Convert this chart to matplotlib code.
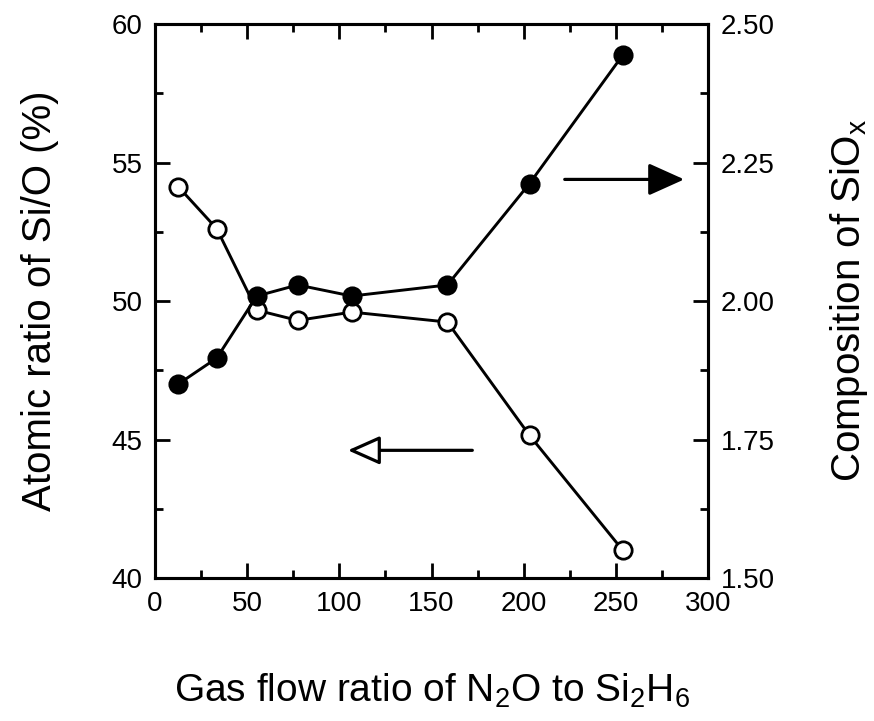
import matplotlib
matplotlib.use("Agg")
import matplotlib.pyplot as plt
from matplotlib.ticker import MultipleLocator

plt.rcParams['font.family'] = ['Liberation Sans', 'DejaVu Sans']
plt.rcParams['mathtext.fontset'] = 'custom'
plt.rcParams['mathtext.rm'] = 'Liberation Sans'
plt.rcParams['mathtext.it'] = 'Liberation Sans'

# Data
flow_ratio = [12.6, 33.5, 55.2, 77.4, 106.7, 158.6, 203.1, 253.7]
si_o_ratio = [54.13, 52.61, 49.67, 49.30, 49.60, 49.24, 45.15, 41.0]
composition = [1.850, 1.897, 2.009, 2.029, 2.009, 2.029, 2.212, 2.444]

x_ticks = [0, 50, 100, 150, 200, 250, 300]
left_ticks = [40, 45, 50, 55, 60]
right_ticks = [1.50, 1.75, 2.00, 2.25, 2.50]
right_labels = ['1.50', '1.75', '2.00', '2.25', '2.50']

fig = plt.figure(figsize=(8.74, 7.21), dpi=100)
ax = fig.add_axes([0.1773, 0.1983, 0.633, 0.7684])
ax2 = ax.twinx()

lw = 2.1
ax.plot(flow_ratio, si_o_ratio, color='black', lw=lw, marker='o', ms=12.5,
        mfc='white', mec='black', mew=2.0, zorder=3)
ax2.plot(flow_ratio, composition, color='black', lw=lw, marker='o', ms=13,
         mfc='black', mec='black', mew=1.5, zorder=3)

ax.set_xlim(0, 300)
ax.set_ylim(40, 60)
ax2.set_ylim(1.5, 2.5)

ax.set_xticks(x_ticks)
ax.set_xticklabels([str(t) for t in x_ticks])
ax.xaxis.set_minor_locator(MultipleLocator(25))
ax.set_yticks(left_ticks)
ax.yaxis.set_minor_locator(MultipleLocator(2.5))
ax2.set_yticks(right_ticks)
ax2.set_yticklabels(right_labels)
ax2.yaxis.set_minor_locator(MultipleLocator(0.125))

for a in (ax, ax2):
    for s in a.spines.values():
        s.set_linewidth(2.2)
ax.tick_params(axis='both', which='major', direction='in', length=11, width=2,
               labelsize=20, top=True, pad=9)
ax.tick_params(axis='both', which='minor', direction='in', length=6, width=2, top=True)
ax.tick_params(axis='y', which='both', right=False)
ax2.tick_params(axis='y', which='major', direction='in', length=11, width=2,
                labelsize=20, pad=9)
ax2.tick_params(axis='y', which='minor', direction='in', length=6, width=2)

ax.set_xlabel(r'Gas flow ratio of N$_\mathregular{2}$O to Si$_\mathregular{2}$H$_\mathregular{6}$',
              fontsize=28, labelpad=40)
ax.set_ylabel('Atomic ratio of Si/O (%)', fontsize=29, labelpad=38)
ax2.set_ylabel(r'Composition of SiO$_\mathregular{x}$', fontsize=29, labelpad=38)

# Arrows
ax.annotate('', xy=(288.5, 54.39), xytext=(220.7, 54.39),
            arrowprops=dict(arrowstyle='-|>,head_length=1.0,head_width=0.45',
                            lw=2.3, color='black', mutation_scale=22), zorder=4)
ax.annotate('', xy=(103.1, 44.61), xytext=(173.6, 44.61),
            arrowprops=dict(arrowstyle='-|>,head_length=0.9,head_width=0.4',
                            lw=2.3, edgecolor='black', facecolor='white',
                            mutation_scale=22), zorder=4)

fig.savefig('out.png', dpi=100)
